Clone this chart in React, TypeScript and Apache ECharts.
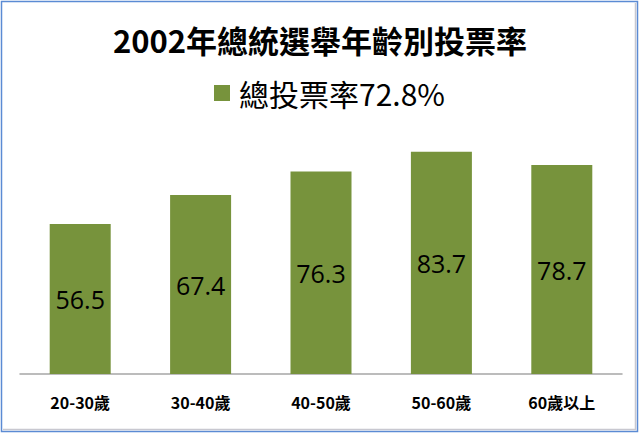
import React, { useEffect, useRef } from "react";
import * as echarts from "echarts";

const categories = ["20-30歲", "30-40歲", "40-50歲", "50-60歲", "60歲以上"];
const turnout = [56.5, 67.4, 76.3, 83.7, 78.7];
const titleText = "2002年總統選舉年齡別投票率";
const seriesName = "總投票率72.8%";

export default function App() {
  const ref = useRef<HTMLDivElement>(null);
  useEffect(() => {
    const chart = echarts.init(ref.current!, null, { renderer: "svg" });
    chart.setOption({
      animation: false,
      backgroundColor: "#ffffff",
      title: {
        text: titleText,
        left: "center",
        top: 19,
        textStyle: {
          fontFamily: "'Noto Sans CJK TC', sans-serif",
          fontWeight: "bold",
          fontSize: 31,
          color: "#000000",
        },
      },
      legend: {
        data: [seriesName],
        left: 209,
        top: 73,
        itemWidth: 16,
        itemHeight: 16,
        itemGap: 8,
        icon: "rect",
        textStyle: {
          fontFamily: "'Noto Sans CJK TC', sans-serif",
          fontSize: 30,
          color: "#000000",
          padding: [0, 0, 0, 4],
        },
      },
      grid: { left: 20, right: 18, top: 108.5, bottom: 60 },
      xAxis: {
        type: "category",
        data: categories,
        axisLine: { lineStyle: { color: "#a6a6a6", width: 1.5 } },
        axisTick: { show: false },
        axisLabel: {
          margin: 20,
          fontFamily: "'Noto Sans CJK TC', sans-serif",
          fontWeight: "bold",
          fontSize: 16,
          color: "#000000",
        },
      },
      yAxis: {
        type: "value",
        min: 0,
        max: 100,
        show: false,
        splitLine: { show: false },
      },
      series: [
        {
          name: seriesName,
          type: "bar",
          data: turnout,
          barWidth: 61,
          itemStyle: { color: "#77933c" },
          label: {
            show: true,
            position: "inside",
            fontFamily: "'Open Sans', 'Noto Sans', sans-serif",
            fontSize: 25,
            color: "#000000",
          },
        },
      ],
      graphic: [
        {
          type: "rect",
          shape: { x: 1.5, y: 1.5, width: 636, height: 430 },
          style: { fill: "none", stroke: "#5b8bd4", lineWidth: 1.5 },
          silent: true,
        },
        {
          type: "polyline",
          shape: { points: [[3, 429.5], [635.5, 429.5], [635.5, 3]] },
          style: { fill: "none", stroke: "#c8c8d0", lineWidth: 1.5 },
          silent: true,
        },
      ],
    });
    return () => chart.dispose();
  }, []);
  return (
    <div
      ref={ref}
      style={{ position: "absolute", left: 0, top: 0, width: 640, height: 434 }}
    />
  );
}
